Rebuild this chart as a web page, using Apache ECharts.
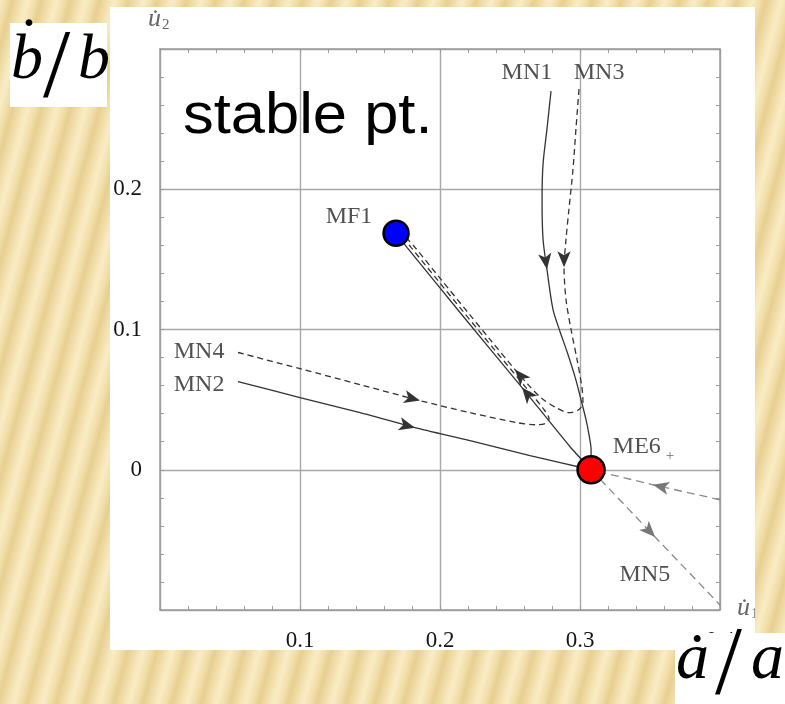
<!DOCTYPE html>
<html>
<head>
<meta charset="utf-8">
<script src="https://cdn.jsdelivr.net/npm/echarts@6/dist/echarts.min.js"></script>
<style>
  html, body { margin: 0; padding: 0; }
  #page {
    position: relative; width: 785px; height: 704px; overflow: hidden;
    background: repeating-linear-gradient(105deg,
      #f8eac0 0px, #f2dfaa 6px, #e8cf91 12px, #efdba5 18px, #f7e8bc 24px, #f9edc6 28px);
  }
  #plot { position: absolute; left: 110px; top: 7px; width: 645px; height: 643px; background: #fff; }
  #over { position: absolute; left: 0; top: 0; width: 785px; height: 704px; }
</style>
</head>
<body>
<div id="page">
  <div id="plot"></div>
  <div id="over"></div>
</div>
<script>
// Phase plane: u1 = ȧ/a (horizontal), u2 = ḃ/b (vertical)
const xTickLabels = ['0.1', '0.2', '0.3', '0.4'];
const yTickLabels = ['0', '0.1', '0.2'];

// fixed points
const MF1 = [0.1686, 0.1686];
const ME6 = [0.3079, 0];

// trajectories
const MN1 = [
  [0.2793, 0.2700], [0.2764, 0.2429], [0.2736, 0.2179], [0.2729, 0.1929], [0.2736, 0.1643],
  [0.2764, 0.1429], [0.2807, 0.1143], [0.2857, 0.0986], [0.2907, 0.0843], [0.2964, 0.0664],
  [0.3007, 0.0500], [0.3043, 0.0357], [0.3064, 0.0250], [0.3079, 0.0143], [0.3079, 0]
];
const MN3 = [
  [0.2993, 0.2714], [0.2971, 0.2429], [0.2950, 0.2143], [0.2921, 0.1857], [0.2900, 0.1643],
  [0.2886, 0.1443], [0.2900, 0.1214], [0.2936, 0.1000], [0.2979, 0.0786], [0.3014, 0.0586],
  [0.3021, 0.0486], [0.2993, 0.0429], [0.2921, 0.0407], [0.2829, 0.0443], [0.2721, 0.0514],
  [0.2636, 0.0600], [0.2536, 0.0714], [0.2357, 0.0929], [0.2200, 0.1121], [0.2007, 0.1357],
  [0.1821, 0.1586], [0.1729, 0.1686]
];
const MN4 = [
  [0.0557, 0.0836], [0.1000, 0.0721], [0.1429, 0.0607], [0.1857, 0.0493], [0.2214, 0.0407],
  [0.2550, 0.0336], [0.2679, 0.0321], [0.2750, 0.0329], [0.2779, 0.0364], [0.2743, 0.0429],
  [0.2614, 0.0586], [0.2400, 0.0843], [0.2171, 0.1121], [0.1979, 0.1357], [0.1793, 0.1586],
  [0.1714, 0.1686]
];
const MN2 = [
  [0.0557, 0.0629], [0.1000, 0.0514], [0.1429, 0.0407], [0.1821, 0.0300], [0.2214, 0.0207],
  [0.2643, 0.0100], [0.3079, 0]
];
// unstable branch of ME6 leading to MF1
const ME6toMF1 = [
  [0.3079, 0], [0.2929, 0.0164], [0.2586, 0.0586], [0.2143, 0.1121], [0.1764, 0.1586], [0.1686, 0.1686]
];
const MN5in = [[0.4000, -0.0214], [0.3521, -0.0107], [0.3079, 0]];
const MN5 = [[0.3079, 0], [0.3536, -0.0479], [0.4000, -0.0964]];

// vertex index of each direction arrow along its trajectory
const arrowIdx = { MN1: [5], MN3: [5, 16], MN4: [3], MN2: [3], ME6toMF1: [2], MN5in: [1], MN5: [1] };

// trajectory / point names and where they are written
const curveNames = ['MN1', 'MN3', 'MF1', 'MN4', 'MN2', 'ME6', 'MN5'];
const curveNamePos = [
  [0.2621, 0.2829], [0.3136, 0.2829], [0.1350, 0.1807], [0.0279, 0.0843],
  [0.0279, 0.0607], [0.3454, 0.0164], [0.3464, -0.0750]
];

const curves = { MN1, MN3, MN4, MN2, ME6toMF1, MN5in, MN5 };

function arrowsFor(key) {
  const pts = curves[key];
  return arrowIdx[key].map(i => {
    const a = pts[i - 1], b = pts[i + 1];
    const ang = Math.atan2(-(b[0] - a[0]), b[1] - a[1]) * 180 / Math.PI;
    return [pts[i][0], pts[i][1], ang];
  });
}

const DARK = '#333333';
const GREY = '#8a8a8a';
const SERIF = '"Liberation Serif", "Times New Roman", serif';

function curveSeries(data, color, dashed, smooth) {
  return {
    type: 'line', data, showSymbol: false, symbol: 'none', smooth: smooth, z: 3,
    lineStyle: { color, width: 1.3, type: dashed ? dashed : 'solid' },
    silent: true
  };
}

const frameLine = { show: true, onZero: false, lineStyle: { color: '#9a9a9a', width: 1.5 } };
const tickIn = { show: true, inside: true, length: 4, lineStyle: { color: '#9a9a9a', width: 1 } };
const minor = { show: true, splitNumber: 5, length: 4, lineStyle: { color: '#9a9a9a', width: 1 } };
const gridLine = { show: true, lineStyle: { color: '#a8a8a8', width: 1.4 } };
const fmt = labels => v => {
  const s = String(Math.round(v * 10) / 10);
  return labels.indexOf(s) >= 0 ? s : '';
};
const labelStyle = { fontFamily: SERIF, fontSize: 23, color: '#151515' };

const plot = echarts.init(document.getElementById('plot'), null, { renderer: 'canvas' });
plot.setOption({
  animation: false,
  backgroundColor: '#ffffff',
  grid: { left: 50, top: 42, width: 560, height: 561, containLabel: false, outerBoundsMode: 'none' },
  xAxis: [
    { type: 'value', min: 0, max: 0.4, interval: 0.1, position: 'bottom',
      axisLine: frameLine, axisTick: tickIn, minorTick: minor, splitLine: gridLine,
      axisLabel: Object.assign({ margin: 19, formatter: fmt(xTickLabels) }, labelStyle) },
    { type: 'value', min: 0, max: 0.4, interval: 0.1, position: 'top',
      axisLine: frameLine, axisTick: tickIn, minorTick: minor, splitLine: { show: false },
      axisLabel: { show: false } }
  ],
  yAxis: [
    { type: 'value', min: -0.1, max: 0.3, interval: 0.1, position: 'left',
      axisLine: frameLine, axisTick: tickIn, minorTick: minor, splitLine: gridLine,
      axisLabel: Object.assign({ margin: 18, formatter: fmt(yTickLabels) }, labelStyle) },
    { type: 'value', min: -0.1, max: 0.3, interval: 0.1, position: 'right',
      axisLine: frameLine, axisTick: tickIn, minorTick: minor, splitLine: { show: false },
      axisLabel: { show: false } }
  ],
  series: [
    curveSeries(MN1, DARK, null, 0.3),
    curveSeries(MN2, DARK, null, 0.2),
    curveSeries(ME6toMF1, DARK, null, 0.2),
    curveSeries(MN3, DARK, [6, 4], 0.3),
    curveSeries(MN4, DARK, [6, 4], 0.3),
    curveSeries(MN5in, GREY, [8, 5], false),
    curveSeries(MN5, GREY, [8, 5], false),
    {
      type: 'scatter', z: 4, silent: true, symbol: 'arrow', symbolSize: [10, 16],
      symbolRotate: v => v[2],
      itemStyle: { color: DARK, opacity: 1 },
      data: [].concat(arrowsFor('MN1'), arrowsFor('MN3'), arrowsFor('MN4'), arrowsFor('MN2'), arrowsFor('ME6toMF1'))
    },
    {
      type: 'scatter', z: 4, silent: true, symbol: 'arrow', symbolSize: [10, 16],
      symbolRotate: v => v[2],
      itemStyle: { color: '#777777', opacity: 1 },
      data: [].concat(arrowsFor('MN5in'), arrowsFor('MN5'))
    },
    {
      type: 'scatter', z: 6, silent: true, symbolSize: 25,
      itemStyle: { borderColor: '#000', borderWidth: 2.5, opacity: 1 },
      data: [
        { value: MF1, itemStyle: { color: '#0000ff' } },
        { value: ME6, symbolSize: 27, itemStyle: { color: '#ff0000' } }
      ]
    },
    {
      type: 'scatter', z: 7, silent: true, symbolSize: 0,
      data: curveNamePos.map((p, i) => ({ value: p, name: curveNames[i] })),
      label: {
        show: true, position: 'inside', color: '#262626', fontFamily: SERIF, fontSize: 24,
        formatter: p => p.name === 'ME6' ? '{m|ME6}{s|+}' : p.name,
        rich: {
          m: { fontFamily: SERIF, fontSize: 24, color: '#262626' },
          s: { fontFamily: SERIF, fontSize: 15, color: '#444', padding: [18, 0, 0, 5] }
        }
      }
    }
  ],
  graphic: [
    { type: 'text', x: 73, y: 110, scaleX: 1.06, silent: true,
      style: { text: 'stable pt.', font: '58px "Liberation Sans", Arial, sans-serif', fill: '#000',
               align: 'left', verticalAlign: 'middle', textAlign: 'left', textVerticalAlign: 'middle' } },
    { type: 'text', x: 38, y: 12, silent: true,
      style: { text: '{u|u\u0307}{s|2}', align: 'left', verticalAlign: 'middle',
               textAlign: 'left', textVerticalAlign: 'middle',
               rich: { u: { fontFamily: SERIF, fontStyle: 'italic', fontSize: 26, fill: '#666', color: '#666' },
                       s: { fontFamily: SERIF, fontSize: 15, fill: '#666', color: '#666', padding: [12, 0, 0, 1] } } } },
    { type: 'text', x: 627, y: 601, silent: true,
      style: { text: '{u|u\u0307}{s|1}', align: 'left', verticalAlign: 'middle',
               textAlign: 'left', textVerticalAlign: 'middle',
               rich: { u: { fontFamily: SERIF, fontStyle: 'italic', fontSize: 26, fill: '#666', color: '#666' },
                       s: { fontFamily: SERIF, fontSize: 15, fill: '#666', color: '#666', padding: [12, 0, 0, 1] } } } }
  ]
});

// axis titles ḃ/b and ȧ/a on their own white boxes
const over = echarts.init(document.getElementById('over'), null, { renderer: 'canvas' });
function t(text, x, y, size, italic, align) {
  return { type: 'text', x, y, silent: true,
    style: { text, font: (italic ? 'italic ' : '') + size + 'px ' + SERIF, fill: '#000',
             align: align || 'left', verticalAlign: 'middle',
             textAlign: align || 'left', textVerticalAlign: 'middle' } };
}
over.setOption({
  animation: false,
  graphic: [
    { type: 'rect', silent: true, shape: { x: 10, y: 23, width: 97, height: 84 }, style: { fill: '#fff' } },
    t('\u02D9', 25, 44, 64, true, 'center'),
    t('b', 11, 61, 64, true),
    t('/', 43, 70, 98, false),
    t('b', 78, 61, 64, true),
    { type: 'rect', silent: true, shape: { x: 675, y: 633, width: 110, height: 71 }, style: { fill: '#fff' } },
    t('\u02D9', 693, 662, 66, true, 'center'),
    t('a', 676, 661, 66, true),
    t('/', 715, 668, 97, false),
    t('a', 751, 661, 66, true)
  ]
});
</script>
</body>
</html>
